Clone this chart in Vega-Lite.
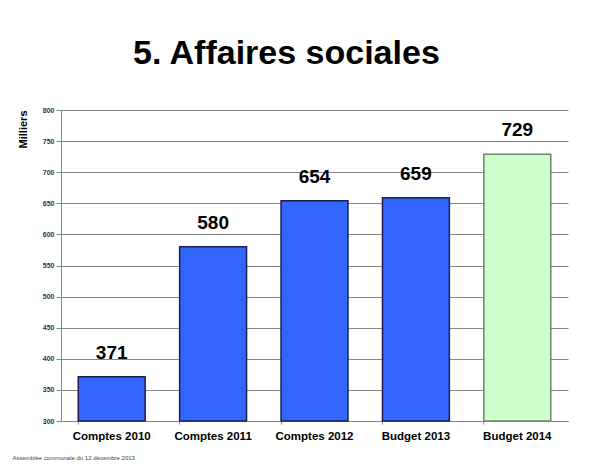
{
  "$schema": "https://vega.github.io/schema/vega-lite/v6.json",
  "autosize": "none",
  "width": 507,
  "height": 311,
  "padding": {"left": 61, "top": 110, "right": 37, "bottom": 43},
  "background": "white",
  "config": {"font": "Liberation Sans", "view": {"stroke": null}},
  "title": {
    "text": "5. Affaires sociales",
    "font": "Liberation Sans",
    "fontSize": 34,
    "fontWeight": "bold",
    "color": "#000000",
    "anchor": "start",
    "frame": "group",
    "dx": 72,
    "offset": 35
  },
  "data": {
    "values": [
      {"cat": "Comptes 2010", "val": 371, "type": "comptes"},
      {"cat": "Comptes 2011", "val": 580, "type": "comptes"},
      {"cat": "Comptes 2012", "val": 654, "type": "comptes"},
      {"cat": "Budget 2013", "val": 659, "type": "comptes"},
      {"cat": "Budget 2014", "val": 729, "type": "budget"}
    ]
  },
  "encoding": {
    "x": {
      "field": "cat",
      "type": "nominal",
      "sort": null,
      "scale": {"paddingInner": 0.34, "paddingOuter": 0.17},
      "axis": {
        "title": "Assemblée communale du 12 décembre 2013",
        "titleFontSize": 6,
        "titleFontWeight": "normal",
        "titleColor": "#444444",
        "titleAnchor": "start",
        "titleAlign": "left",
        "titleX": -49,
        "titleY": 33,
        "labelAngle": 0,
        "labelFontSize": 11.5,
        "labelFontWeight": "bold",
        "labelColor": "#000000",
        "labelPadding": 6,
        "bandPosition": 0,
        "tickSize": 3,
        "tickColor": "#888888",
        "domainColor": "#888888",
        "grid": false
      }
    },
    "y": {
      "field": "val",
      "type": "quantitative",
      "scale": {"domain": [300, 800], "nice": false, "zero": false},
      "axis": {
        "values": [300, 350, 400, 450, 500, 550, 600, 650, 700, 750, 800],
        "title": "Milliers",
        "titleFontSize": 11,
        "titleFontWeight": "bold",
        "titleColor": "#000000",
        "titleAnchor": "end",
        "titlePadding": 14,
        "labelFontSize": 7,
        "labelFontWeight": "bold",
        "labelColor": "#333333",
        "tickSize": 5,
        "tickColor": "#888888",
        "domainColor": "#888888",
        "gridColor": "#888888",
        "gridWidth": 1
      }
    }
  },
  "layer": [
    {
      "mark": {"type": "bar", "strokeWidth": 1.5},
      "encoding": {
        "y2": {"datum": 300},
        "color": {
          "field": "type",
          "type": "nominal",
          "scale": {"domain": ["comptes", "budget"], "range": ["#3366FF", "#CCFFCC"]},
          "legend": null
        },
        "stroke": {
          "field": "type",
          "type": "nominal",
          "scale": {"domain": ["comptes", "budget"], "range": ["#1A2050", "#6A8A6A"]},
          "legend": null
        }
      }
    },
    {
      "mark": {"type": "text", "baseline": "alphabetic", "dy": -18, "fontSize": 19, "fontWeight": "bold", "color": "#000000"},
      "encoding": {"text": {"field": "val", "type": "quantitative"}}
    }
  ]
}
